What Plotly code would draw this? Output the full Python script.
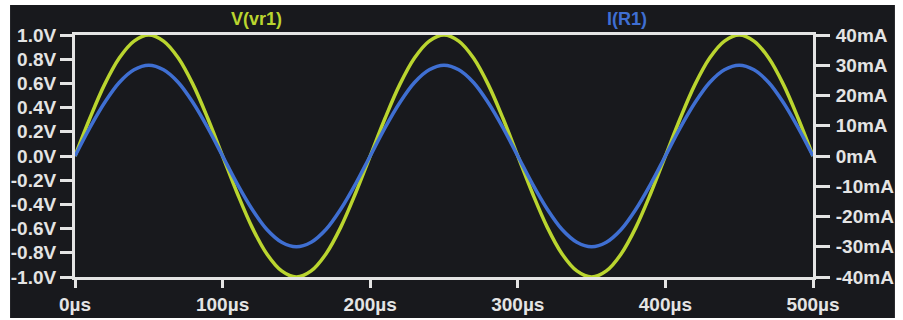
import plotly.graph_objects as go

# transient sim readout, sampled every 10us off the plot
t_us = [0, 10, 20, 30, 40, 50, 60, 70, 80, 90,
        100, 110, 120, 130, 140, 150, 160, 170, 180, 190,
        200, 210, 220, 230, 240, 250, 260, 270, 280, 290,
        300, 310, 320, 330, 340, 350, 360, 370, 380, 390,
        400, 410, 420, 430, 440, 450, 460, 470, 480, 490, 500]

v_vr1 = [0.00, 0.31, 0.59, 0.81, 0.95, 1.00, 0.95, 0.81, 0.59, 0.31,
         0.00, -0.31, -0.59, -0.81, -0.95, -1.00, -0.95, -0.81, -0.59, -0.31,
         0.00, 0.31, 0.59, 0.81, 0.95, 1.00, 0.95, 0.81, 0.59, 0.31,
         0.00, -0.31, -0.59, -0.81, -0.95, -1.00, -0.95, -0.81, -0.59, -0.31,
         0.00, 0.31, 0.59, 0.81, 0.95, 1.00, 0.95, 0.81, 0.59, 0.31, 0.00]

i_r1_mA = [0.0, 9.3, 17.6, 24.3, 28.5, 30.0, 28.5, 24.3, 17.6, 9.3,
           0.0, -9.3, -17.6, -24.3, -28.5, -30.0, -28.5, -24.3, -17.6, -9.3,
           0.0, 9.3, 17.6, 24.3, 28.5, 30.0, 28.5, 24.3, 17.6, 9.3,
           0.0, -9.3, -17.6, -24.3, -28.5, -30.0, -28.5, -24.3, -17.6, -9.3,
           0.0, 9.3, 17.6, 24.3, 28.5, 30.0, 28.5, 24.3, 17.6, 9.3, 0.0]

x_ticks = [0, 100, 200, 300, 400, 500]
x_labels = ["0µs", "100µs", "200µs", "300µs", "400µs", "500µs"]
v_ticks = [1.0, 0.8, 0.6, 0.4, 0.2, 0.0, -0.2, -0.4, -0.6, -0.8, -1.0]
v_labels = ["1.0V", "0.8V", "0.6V", "0.4V", "0.2V", "0.0V",
            "-0.2V", "-0.4V", "-0.6V", "-0.8V", "-1.0V"]
i_ticks = [40, 30, 20, 10, 0, -10, -20, -30, -40]
i_labels = ["40mA", "30mA", "20mA", "10mA", "0mA",
            "-10mA", "-20mA", "-30mA", "-40mA"]

BG = "#18191d"
FG = "#e4e4e4"
GREEN = "#bad52f"
BLUE = "#3f6fd2"
FONT = "Liberation Sans, Arial, sans-serif"

fig = go.Figure()
fig.add_trace(go.Scatter(x=t_us, y=v_vr1, mode="lines", line_shape="spline",
                         line=dict(color=GREEN, width=3.5), name="V(vr1)"))
fig.add_trace(go.Scatter(x=t_us, y=i_r1_mA, mode="lines", line_shape="spline",
                         line=dict(color=BLUE, width=3.5), name="I(R1)", yaxis="y2"))

axis_common = dict(showgrid=False, zeroline=False, showline=True, linecolor=FG,
                   linewidth=3, ticks="outside", tickcolor=FG, tickwidth=3,
                   automargin=False,
                   tickfont=dict(family=FONT, size=19, color=FG, weight="bold"))

fig.update_layout(
    width=903, height=320,
    margin=dict(l=75, r=90, t=35, b=43),
    paper_bgcolor="white", plot_bgcolor=BG,
    showlegend=False,
    xaxis=dict(range=[0, 500], tickvals=x_ticks, ticktext=x_labels,
               ticklen=8, mirror=True, **axis_common),
    yaxis=dict(range=[-1.0, 1.0], tickvals=v_ticks, ticktext=v_labels,
               ticklen=12, ticklabelstandoff=0, **axis_common),
    yaxis2=dict(range=[-40, 40], tickvals=i_ticks, ticktext=i_labels,
                overlaying="y", side="right", ticklen=14, ticklabelstandoff=2,
                **axis_common),
    shapes=[dict(type="rect", xref="paper", yref="paper",
                 x0=-0.088, x1=1.111, y0=-0.169, y1=1.124,
                 fillcolor=BG, line=dict(width=0), layer="below")],
    annotations=[
        dict(text="V(vr1)", x=0.246, y=1.066, xref="paper", yref="paper",
             xanchor="center", yanchor="middle", showarrow=False,
             font=dict(family=FONT, size=18, color=GREEN, weight="bold")),
        dict(text="I(R1)", x=0.748, y=1.066, xref="paper", yref="paper",
             xanchor="center", yanchor="middle", showarrow=False,
             font=dict(family=FONT, size=18, color=BLUE, weight="bold")),
    ],
)

# drop the default page margin so the figure sits at the window corner
fig.write_html("out.html", config={"displayModeBar": False},
               post_script="document.body.style.margin='0';")
